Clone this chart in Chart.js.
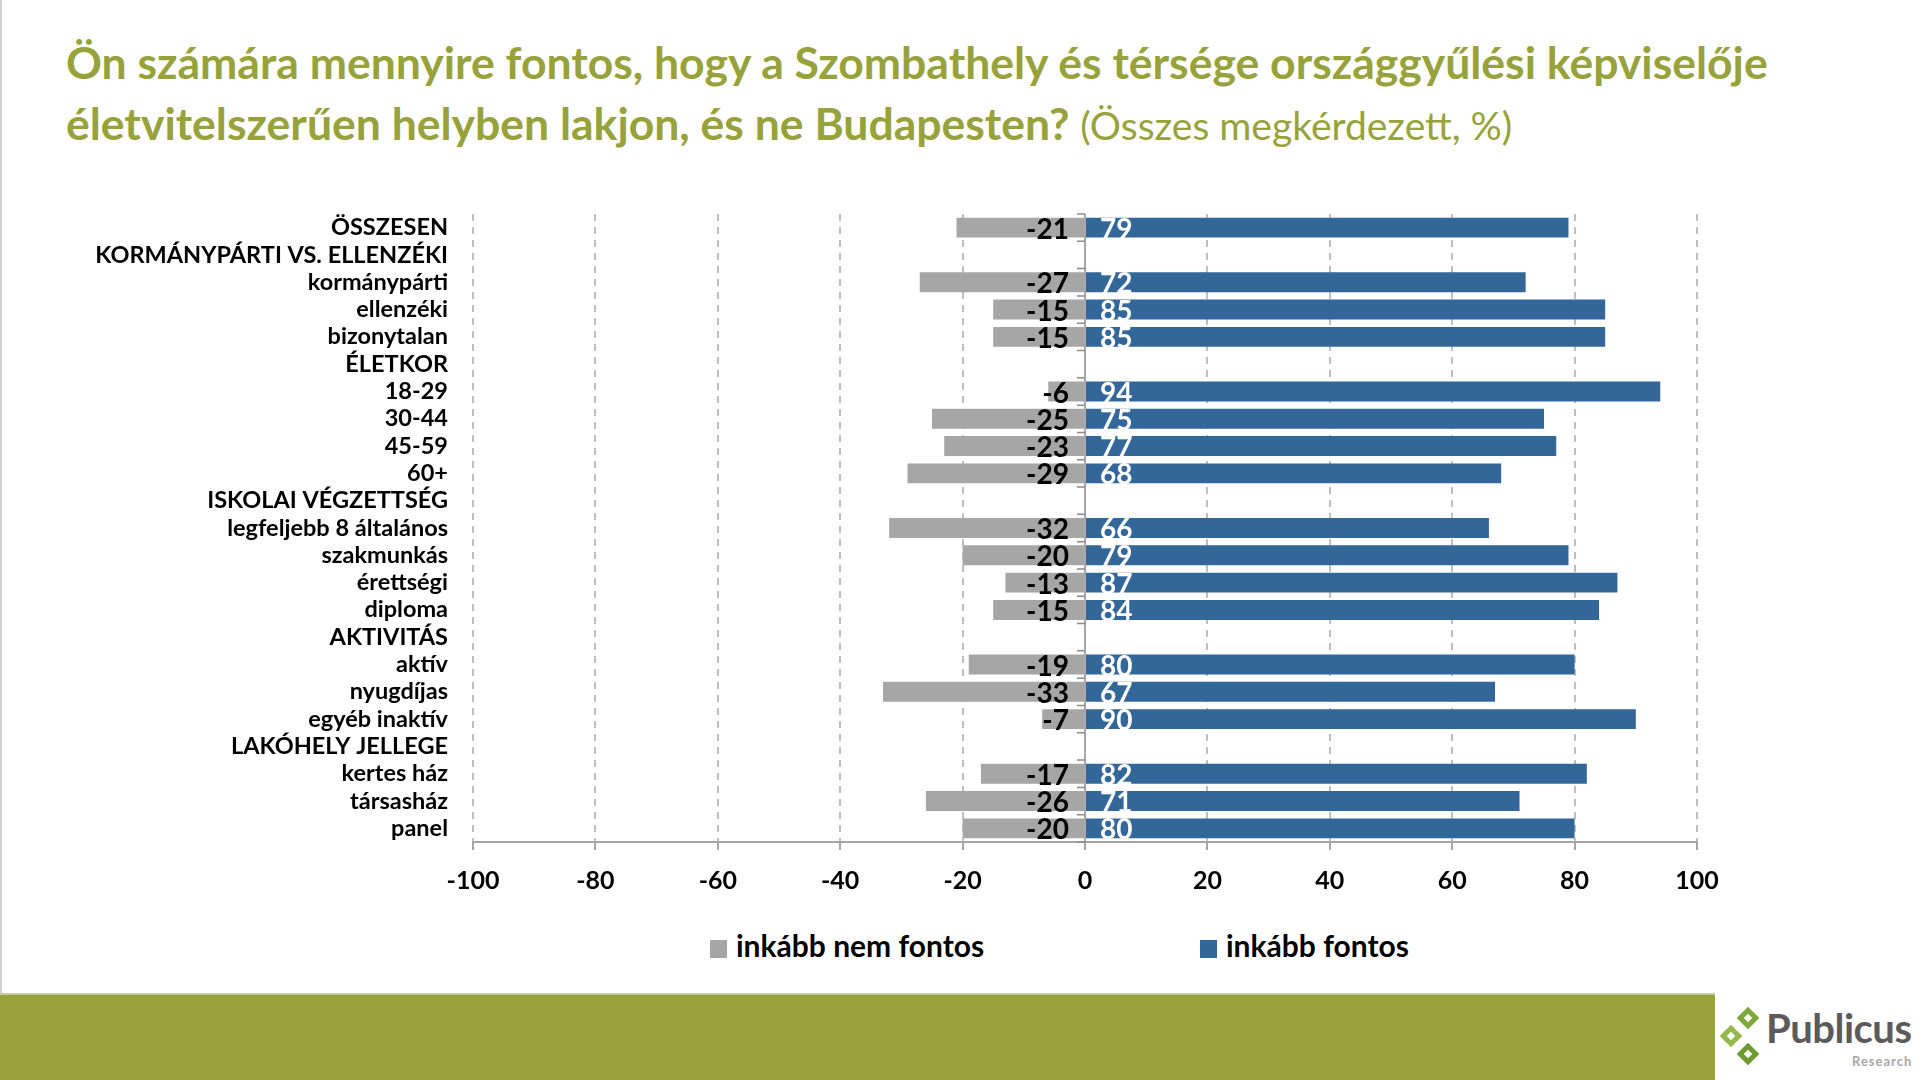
<!DOCTYPE html>
<html>
<head>
<meta charset="utf-8">
<script src="https://cdn.jsdelivr.net/npm/chart.js@4"></script>
<style>
  body { margin: 0; width: 1920px; height: 1080px; position: relative; overflow: hidden; background: #fff; font-family: Lato, "Open Sans", sans-serif; }
  .leftline { position: absolute; left: 0; top: 0; width: 2px; height: 993px; background: #d0d0d0; }
  #title { position: absolute; left: 66px; top: 31px; font-size: 44.5px; line-height: 61px; font-weight: bold; color: #97a23b; white-space: nowrap; }
  #title .sub { font-weight: normal; font-size: 39px; }
  #wrap { position: absolute; left: 0; top: 175px; width: 1745px; height: 727px; }
  #legend { position: absolute; top: 928px; left: 0; font-weight: bold; font-size: 30px; color: #000; }
  .item { position: absolute; white-space: nowrap; line-height: 34px; }
  .box { display: inline-block; width: 17px; height: 18px; vertical-align: -1px; margin-right: 9px; }
  #footer { position: absolute; left: 0; top: 993px; width: 1715px; height: 87px; background: #99a33d; border-top: 2px solid #c8cd95; }
  .dia { position: absolute; width: 16px; height: 16px; transform: rotate(45deg); background: #7fa83a; }
  .dia::after { content: ""; position: absolute; left: 5px; top: 5px; width: 6px; height: 6px; background: #fff; }
  #pub { position: absolute; left: 1766px; top: 1007px; font-size: 40px; font-weight: bold; color: #5b5b5b; line-height: 42px; letter-spacing: -0.5px; }
  #res { position: absolute; left: 1852px; top: 1053px; font-size: 13px; color: #a8a8a8; font-weight: bold; letter-spacing: 1px; }
</style>
</head>
<body>
<div class="leftline"></div>
<div id="title">Ön számára mennyire fontos, hogy a Szombathely és térsége országgyűlési képviselője<br>életvitelszerűen helyben lakjon, és ne Budapesten? <span class="sub">(Összes megkérdezett, %)</span></div>
<div id="wrap"><canvas id="myChart"></canvas></div>
<div id="legend"></div>
<div id="footer"></div>
<div class="dia" style="left:1740px;top:1010px;"></div>
<div class="dia" style="left:1723px;top:1028px;background:#94b84a;"></div>
<div class="dia" style="left:1740px;top:1046px;background:#6f9c32;"></div>
<div id="pub">Publicus</div>
<div id="res">Research</div>

<script>
// categories (group headers have no values)
const categories = [
  "ÖSSZESEN",
  "KORMÁNYPÁRTI VS. ELLENZÉKI", "kormánypárti", "ellenzéki", "bizonytalan",
  "ÉLETKOR", "18-29", "30-44", "45-59", "60+",
  "ISKOLAI VÉGZETTSÉG", "legfeljebb 8 általános", "szakmunkás", "érettségi", "diploma",
  "AKTIVITÁS", "aktív", "nyugdíjas", "egyéb inaktív",
  "LAKÓHELY JELLEGE", "kertes ház", "társasház", "panel"
];
const seriesNames = ["inkább nem fontos", "inkább fontos"];
const notImportant = [-21, null, -27, -15, -15, null, -6, -25, -23, -29, null, -32, -20, -13, -15, null, -19, -33, -7, null, -17, -26, -20];
const important = [79, null, 72, 85, 85, null, 94, 75, 77, 68, null, 66, 79, 87, 84, null, 80, 67, 90, null, 82, 71, 80];
const seriesColors = ["#a6a6a6", "#336699"];

const fontFam = "Lato, 'Open Sans', sans-serif";

// zero line + value labels
const extras = {
  id: "extras",
  beforeDatasetsDraw(chart) {
    const ctx = chart.ctx;
    const x = chart.scales.x;
    const x0 = x.getPixelForValue(0);
    ctx.save();
    ctx.strokeStyle = "#8c8c8c";
    ctx.lineWidth = 1.5;
    ctx.beginPath();
    ctx.moveTo(x0, chart.chartArea.top);
    ctx.lineTo(x0, chart.chartArea.bottom);
    const step = (chart.chartArea.bottom - chart.chartArea.top) / categories.length;
    for (let i = 0; i <= categories.length; i++) {
      const yy = chart.chartArea.top + i * step;
      ctx.moveTo(x0 - 8, yy);
      ctx.lineTo(x0, yy);
    }
    ctx.stroke();
    ctx.restore();
  },
  afterDatasetsDraw(chart) {
    const ctx = chart.ctx;
    const x0 = chart.scales.x.getPixelForValue(0);
    ctx.save();
    ctx.font = "bold 28px " + fontFam;
    ctx.textBaseline = "middle";
    chart.data.datasets.forEach((ds, di) => {
      chart.getDatasetMeta(di).data.forEach((el, i) => {
        const v = ds.data[i];
        if (v === null) return;
        if (v < 0) {
          ctx.fillStyle = "#000";
          ctx.textAlign = "right";
          ctx.fillText(String(v), x0 - 16, el.y + 2);
        } else {
          ctx.fillStyle = "#fff";
          ctx.textAlign = "left";
          ctx.fillText(String(v), x0 + 15, el.y + 2);
        }
      });
    });
    ctx.restore();
  }
};

new Chart("myChart", {
  type: "bar",
  data: {
    labels: categories,
    datasets: [
      { label: seriesNames[0], data: notImportant, backgroundColor: seriesColors[0] },
      { label: seriesNames[1], data: important, backgroundColor: seriesColors[1] }
    ]
  },
  options: {
    indexAxis: "y",
    responsive: true,
    maintainAspectRatio: false,
    animation: false,
    layout: { padding: { top: 39, right: 48, left: 0, bottom: 0 } },
    datasets: { bar: { barPercentage: 0.73, categoryPercentage: 1 } },
    plugins: { legend: { display: false }, tooltip: { enabled: false } },
    scales: {
      x: {
        stacked: true,
        min: -100, max: 100,
        ticks: { stepSize: 20, color: "#000", padding: 16, font: { family: fontFam, size: 25, weight: "bold" } },
        grid: {
          color: (c) => c.tick && c.tick.value === 0 ? "rgba(0,0,0,0)" : "#bfbfbf",
          lineWidth: 2,
          tickLength: 8,
          tickColor: "#a6a6a6",
          tickWidth: 2
        },
        border: { display: true, color: "#a6a6a6", width: 2, dash: [7, 6] },
        afterFit: (s) => { s.height = 60; }
      },
      y: {
        stacked: true,
        ticks: { autoSkip: false, color: "#000", padding: 17, font: { family: fontFam, size: 23.5, weight: "bold" } },
        grid: { display: false },
        border: { display: false },
        afterFit: (s) => { s.width = 473; }
      }
    }
  },
  plugins: [extras]
});

// legend
const legendPos = [710, 1200];
const legend = document.getElementById("legend");
seriesNames.forEach((n, i) => {
  const d = document.createElement("div");
  d.className = "item";
  d.style.left = legendPos[i] + "px";
  d.innerHTML = '<span class="box" style="background:' + seriesColors[i] + '"></span>' + n;
  legend.appendChild(d);
});
</script>
</body>
</html>
